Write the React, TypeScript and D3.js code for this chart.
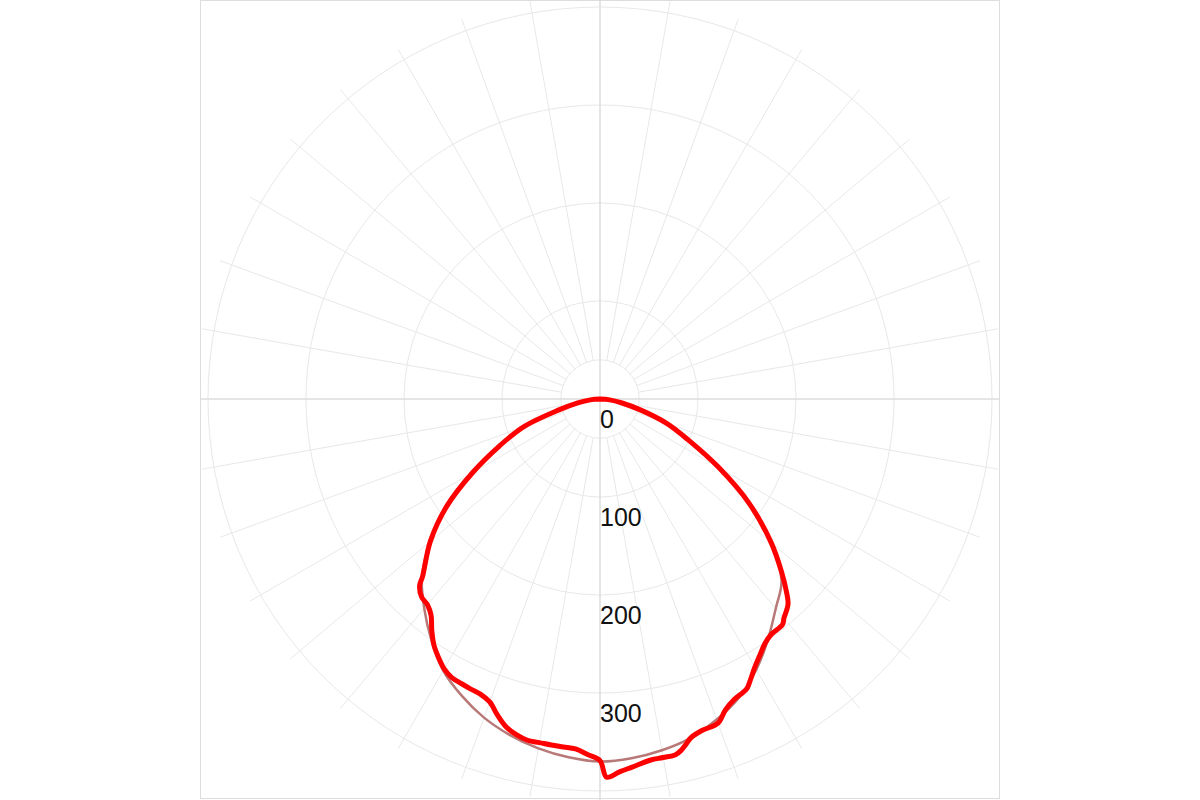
import React from "react";
import * as d3 from "d3";

// Polar grid settings (values)
const ringValues = [100, 200, 300, 400];
const labelValues = [0, 100, 200, 300];
const spokeAngles = d3.range(0, 360, 10);
const innerHoleValue = 40;
const maxValue = 400;

// Measured curve (red): angle in degrees from nadir (negative = left), intensity
const redAngles = [
  -90, -85, -80, -75, -70, -65, -60, -55, -50, -45, -44, -42, -40, -38, -36, -34, -32, -30,
  -28, -26, -24, -22, -20, -18, -16, -14, -12, -10, -8, -6, -4, -2, 0, 1, 3, 5, 8, 10, 12,
  13, 14, 15, 17, 20, 22, 24, 26, 27, 28, 30, 32, 34, 36, 39, 40, 42.5, 44, 46.5, 50,
  55, 60, 65, 70, 75, 80, 85, 90,
];
const redValues = [
  0, 10, 23, 44, 83, 113, 150, 191, 226, 256, 265, 272, 274, 280, 292, 303, 311, 318,
  322, 323, 324, 325, 329, 339, 348, 353, 356, 356, 356.5, 357, 358, 363, 369, 386, 381, 377, 372, 371.5, 371,
  368, 363, 358, 354, 352, 342, 336, 333, 331, 326, 316, 308, 301, 297, 296, 292, 284, 274, 255, 228,
  186, 140, 100, 72, 42, 22, 10, 0,
];

// Smoothed reference curve (brown)
const smoothAngles = [
  -90, -85, -80, -75, -70, -65, -60, -55, -50, -45, -40, -35, -30, -25, -20, -15, -10, -5, 0,
  5, 10, 15, 20, 25, 30, 35, 40, 45, 50, 55, 60, 65, 70, 75, 80, 85, 90,
];
const smoothValues = [
  0, 10, 23, 44, 83, 113, 150, 191, 226, 257, 279, 300, 320, 334, 346, 355, 362, 367, 370,
  368, 364, 358, 348, 336, 319, 299, 279, 262, 228, 186, 140, 100, 72, 42, 22, 10, 0,
];

const W = 1200;
const H = 800;
const cx = 600;
const cy = 399;

export default function App() {
  const r = d3.scaleLinear().domain([0, maxValue]).range([0, 392]);
  const toAngle = (deg: number) => Math.PI - (deg * Math.PI) / 180;

  const line = d3
    .lineRadial<[number, number]>()
    .angle((d) => toAngle(d[0]))
    .radius((d) => r(d[1]))
    .curve(d3.curveCatmullRom.alpha(0.5));

  const redPts: [number, number][] = redAngles.map((a, i) => [a, redValues[i]]);
  const smoothPts: [number, number][] = smoothAngles.map((a, i) => [a, smoothValues[i]]);

  const gridColor = "#e8e8e8";
  const axisColor = "#dddddd";

  return (
    <svg
      width={W}
      height={H}
      style={{ position: "absolute", left: 0, top: 0, background: "#fff" }}
    >
      <rect x={200.5} y={0.5} width={799} height={798} fill="none" stroke={axisColor} strokeWidth={1} />
      <g transform={`translate(${cx},${cy})`}>
        {spokeAngles
          .filter((a) => a % 90 !== 0)
          .map((a) => {
            const t = (a * Math.PI) / 180;
            const r0 = r(innerHoleValue);
            const r1 = r(maxValue) + 12;
            return (
              <line
                key={a}
                x1={r0 * Math.sin(t)}
                y1={-r0 * Math.cos(t)}
                x2={r1 * Math.sin(t)}
                y2={-r1 * Math.cos(t)}
                stroke={gridColor}
                strokeWidth={1}
              />
            );
          })}
        {ringValues.map((v) => (
          <circle key={v} r={r(v)} fill="none" stroke={gridColor} strokeWidth={1} />
        ))}
        <circle r={r(innerHoleValue)} fill="none" stroke={gridColor} strokeWidth={1} />
        <line x1={-400} y1={0} x2={400} y2={0} stroke={axisColor} strokeWidth={1.5} />
        <line x1={0} y1={-cy} x2={0} y2={H - cy} stroke={axisColor} strokeWidth={1.5} />

        <path
          d={line(smoothPts) || ""}
          fill="none"
          stroke="#b87878"
          strokeWidth={2.5}
          strokeLinejoin="round"
          strokeLinecap="round"
        />
        <path
          d={line(redPts) || ""}
          fill="none"
          stroke="#ff0000"
          strokeWidth={5}
          strokeLinejoin="round"
          strokeLinecap="round"
        />

        {labelValues.map((v) => (
          <text
            key={v}
            x={0}
            y={r(v) + 29}
            fontFamily="Liberation Sans, Arial, sans-serif"
            fontSize={25}
            fill="#111"
          >
            {v}
          </text>
        ))}
      </g>
    </svg>
  );
}
